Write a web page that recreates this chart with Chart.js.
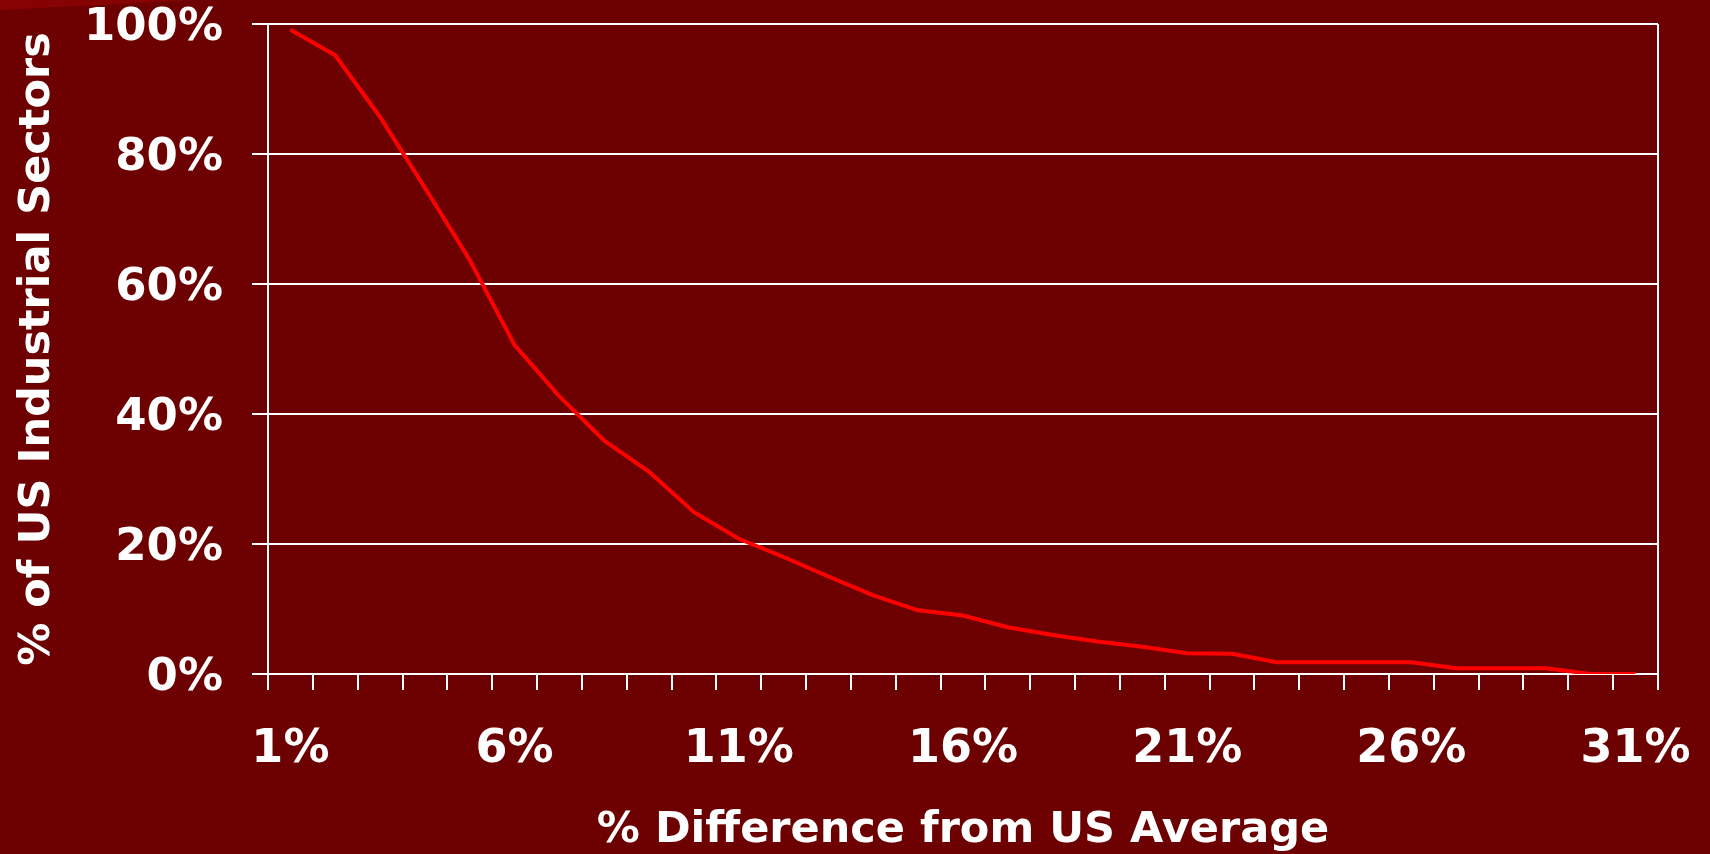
<!DOCTYPE html>
<html lang="en">
<head>
    <meta charset="UTF-8">
    <title>% of US Industrial Sectors by % Difference from US Average</title>
    <script src="https://cdn.jsdelivr.net/npm/chart.js"></script>
    <style>
        body {
            margin: 0;
            background-color: #6D0000;
            overflow: hidden;
        }
        .wedge {
            position: absolute;
            left: 0;
            top: 0;
            width: 195px;
            height: 10px;
            background-color: #870303;
            clip-path: polygon(0 0, 100% 0, 0 100%);
        }
        #chart {
            position: absolute;
            left: 0;
            top: 0;
        }
    </style>
</head>
<body>

<div class="wedge"></div>
<canvas id="chart" width="1710" height="854"></canvas>

<script>
    // x categories, one per 1% step
    const categories = ['1%', '2%', '3%', '4%', '5%', '6%', '7%', '8%', '9%', '10%',
        '11%', '12%', '13%', '14%', '15%', '16%', '17%', '18%', '19%', '20%',
        '21%', '22%', '23%', '24%', '25%', '26%', '27%', '28%', '29%', '30%', '31%'];
    // only these get a label under the axis
    const shownLabels = ['1%', '6%', '11%', '16%', '21%', '26%', '31%'];
    // share of sectors (%)
    const sectorShare = [99.1, 95.2, 85.7, 74.8, 63.7, 50.6, 42.7, 35.9, 31.1, 24.9,
        20.8, 18.0, 15.0, 12.1, 9.8, 9.0, 7.2, 6.0, 5.0, 4.2,
        3.2, 3.1, 1.8, 1.8, 1.8, 1.8, 0.9, 0.9, 0.9, 0.0, 0.0];
    const yTicks = [0, 20, 40, 60, 80, 100];

    const fontFamily = "'DejaVu Sans', Verdana, sans-serif";

    // right edge of the plot frame
    const frameRight = {
        id: 'frameRight',
        afterDraw(chart) {
            const a = chart.chartArea;
            const ctx = chart.ctx;
            ctx.save();
            ctx.strokeStyle = '#FFFFFF';
            ctx.lineWidth = 2;
            ctx.beginPath();
            ctx.moveTo(a.right, a.top);
            ctx.lineTo(a.right, a.bottom);
            ctx.stroke();
            ctx.restore();
        }
    };

    const ctx = document.getElementById('chart').getContext('2d');
    const chart = new Chart(ctx, {
        type: 'line',
        data: {
            labels: categories,
            datasets: [{
                label: '% of US Industrial Sectors',
                data: sectorShare,
                borderColor: '#FF0000',
                borderWidth: 4,
                pointRadius: 0,
                tension: 0,
                fill: false
            }]
        },
        options: {
            responsive: false,
            animation: false,
            devicePixelRatio: 1,
            layout: {
                padding: { top: 24, right: 52, bottom: 0, left: 12 }
            },
            plugins: {
                legend: { display: false },
                tooltip: { enabled: false }
            },
            scales: {
                x: {
                    type: 'category',
                    offset: true,
                    afterFit(scale) {
                        scale.height = 180;
                        scale.paddingLeft = 0;
                        scale.paddingRight = 0;
                    },
                    border: { display: true, color: '#FFFFFF', width: 2 },
                    grid: {
                        offset: true,
                        drawOnChartArea: false,
                        drawTicks: true,
                        tickLength: 16,
                        color: '#FFFFFF',
                        lineWidth: 2
                    },
                    ticks: {
                        autoSkip: false,
                        maxRotation: 0,
                        padding: 32,
                        color: '#FFFFFF',
                        font: { family: fontFamily, size: 46, weight: 'bold', lineHeight: 1.2 },
                        callback: function (value, index) {
                            const label = categories[index];
                            return shownLabels.includes(label) ? label : '';
                        }
                    },
                    title: {
                        display: true,
                        text: '% Difference from US Average',
                        color: '#FFFFFF',
                        padding: { top: 0, bottom: 0 },
                        font: { family: fontFamily, size: 43, weight: 'bold', lineHeight: 1.1 }
                    }
                },
                y: {
                    min: 0,
                    max: 100,
                    afterFit(scale) {
                        scale.width = 256;
                        scale.paddingTop = 0;
                        scale.paddingBottom = 0;
                    },
                    afterBuildTicks(scale) {
                        scale.ticks = yTicks.map(v => ({ value: v }));
                    },
                    border: { display: true, color: '#FFFFFF', width: 2 },
                    grid: {
                        drawTicks: true,
                        tickLength: 16,
                        color: '#FFFFFF',
                        lineWidth: 2
                    },
                    ticks: {
                        padding: 29,
                        labelOffset: 4,
                        color: '#FFFFFF',
                        font: { family: fontFamily, size: 45, weight: 'bold', lineHeight: 1.0 },
                        callback: v => v + '%'
                    },
                    title: {
                        display: true,
                        text: '% of US Industrial Sectors',
                        color: '#FFFFFF',
                        padding: { top: 0, bottom: 0 },
                        font: { family: fontFamily, size: 43, weight: 'bold', lineHeight: 1.2 }
                    }
                }
            }
        },
        plugins: [frameRight]
    });
</script>

</body>
</html>
